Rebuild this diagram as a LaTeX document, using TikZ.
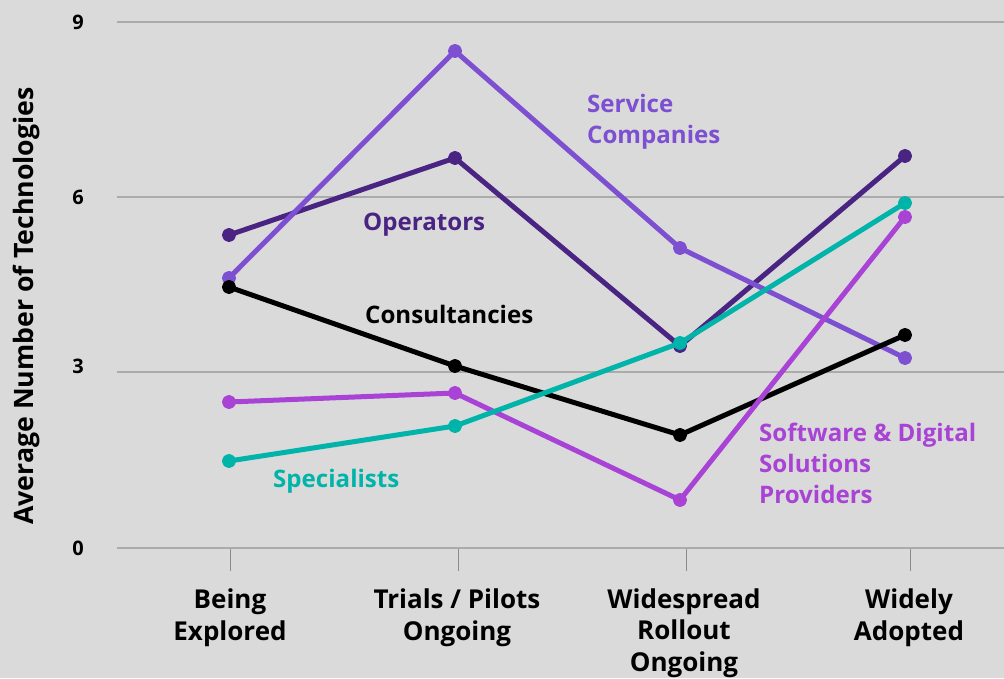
\documentclass[tikz,border=0pt]{standalone}
\usepackage{fontspec}
\setmainfont{Open Sans}
\definecolor{bgcol}{HTML}{DADADA}
\definecolor{gridcol}{HTML}{ABABAB}
\definecolor{tickcol}{HTML}{8C8C8C}
\definecolor{opercol}{HTML}{4A2483}
\definecolor{servcol}{HTML}{7D4FD1}
\definecolor{softcol}{HTML}{A843D5}
\definecolor{speccol}{HTML}{00B4AA}

\begin{document}
\begin{tikzpicture}[x=1pt, y=-1pt,
        grid/.style = {draw=gridcol, line width=2pt},
        series/.style = {line width=5pt, line join=round, mark=*, mark size=4.5pt},
        ticklabel/.style = {font=\fontsize{20}{24}\selectfont\bfseries, inner sep=0pt},
        catlabel/.style = {font=\fontsize{26}{31.5}\selectfont\bfseries, align=center, anchor=base, inner sep=0pt},
        serlabel/.style = {font=\fontsize{24.1}{31}\selectfont\bfseries, align=left, anchor=base west, inner sep=0pt}]
        \fill[bgcol] (0,0) rectangle (1004,678);
        \useasboundingbox (0,0) rectangle (1004,678);

        % grid and axis
        \foreach \y/\v in {22/9, 197/6, 372/3, 548/0}
            \draw[grid] (117,\y) -- (1004,\y);
        \node[ticklabel] (t9) at (78,22) {9};
        \node[ticklabel] (t6) at (78,197) {6};
        \node[ticklabel] (t3) at (78,366) {3};
        \node[ticklabel] (t0) at (78,548) {0};
        \foreach \x in {230, 458, 686, 910}
            \draw[tickcol, line width=1pt] (\x,549) -- (\x,571);

        \node[font=\fontsize{26.7}{30}\selectfont\bfseries, rotate=90, anchor=base, inner sep=0pt] (ytitle) at (34,306) {Average Number of Technologies};

        % last line baselines
        \node[catlabel] (c1) at (230,640) {Being\\Explored};
        \node[catlabel] (c2) at (457,640) {Trials / Pilots\\Ongoing};
        \node[catlabel] (c3) at (684,671) {Widespread\\Rollout\\Ongoing};
        \node[catlabel] (c4) at (909,640) {Widely\\Adopted};

        % series
        \draw[series, opercol] plot coordinates {(229,235) (455,158) (680,346) (905,156)};
        \draw[series, servcol] plot coordinates {(229,278) (455,51) (680,248) (905,358)};
        \draw[series, black] plot coordinates {(229,287) (455,366) (680,435) (905,335)};
        \draw[series, softcol] plot coordinates {(229,402) (455,393) (680,500) (905,217)};
        \draw[series, speccol] plot coordinates {(229,461) (455,426) (680,343) (905,203)};

        % labels
        \node[serlabel, servcol] (lserv) at (587,143) {Service\\Companies};
        \node[serlabel, opercol] (loper) at (363,230) {Operators};
        \node[serlabel, black] (lcons) at (365,323) {Consultancies};
        \node[serlabel, speccol] (lspec) at (273,487) {Specialists};
        \node[serlabel, softcol] (lsoft) at (759,503) {Software \& Digital\\Solutions\\Providers};
    \end{tikzpicture}
\end{document}
